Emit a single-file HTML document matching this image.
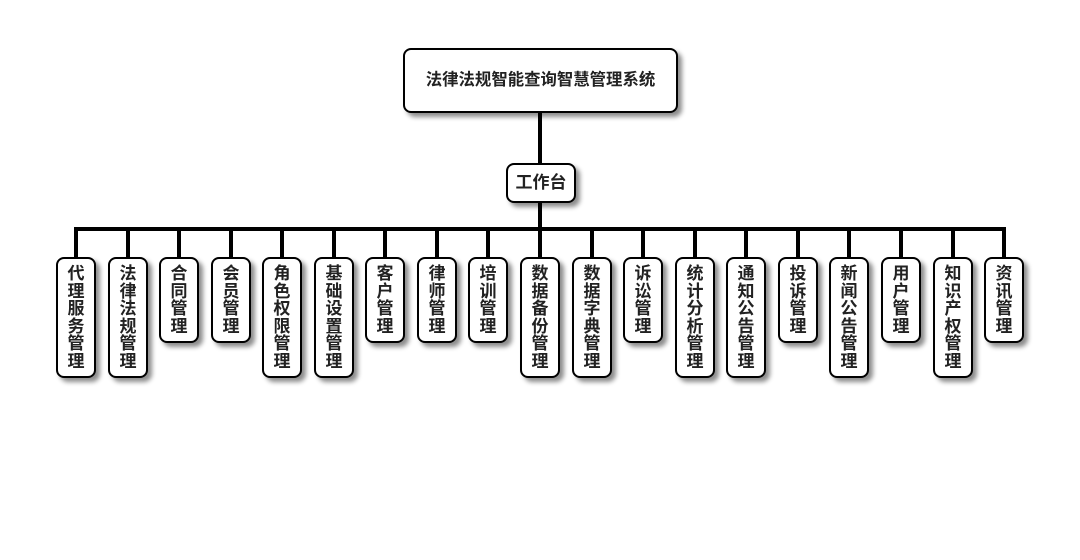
<!DOCTYPE html>
<html><head><meta charset="utf-8"><style>
html,body{margin:0;padding:0;background:#fff;}
body{width:1080px;height:560px;position:relative;overflow:hidden;font-family:"Liberation Sans","Noto Sans CJK SC",sans-serif;font-weight:bold;color:#222;}
.b{position:absolute;background:#fff;border:2px solid #000;border-radius:8px;box-shadow:4px 4px 5px rgba(0,0,0,0.45);box-sizing:border-box;}
.l{position:absolute;background:#000;}
.c{width:40px;top:257px;text-align:center;font-size:17px;line-height:17.5px;padding-top:6px;}
</style></head><body>
<div class="l" style="left:538px;top:112px;width:4px;height:52px"></div>
<div class="l" style="left:538px;top:200px;width:4px;height:29px"></div>
<div class="l" style="left:74px;top:227px;width:932px;height:4px"></div>
<div class="b" style="left:403px;top:48px;width:275px;height:65px;font-size:16.4px;line-height:61px;text-align:center;">法律法规智能查询智慧管理系统</div>
<div class="b" style="left:506px;top:163px;width:70px;height:40px;font-size:17px;line-height:36px;text-align:center;">工作台</div>
<div id="k"></div>
<script>
var n=["代理服务管理","法律法规管理","合同管理","会员管理","角色权限管理","基础设置管理","客户管理","律师管理","培训管理","数据备份管理","数据字典管理","诉讼管理","统计分析管理","通知公告管理","投诉管理","新闻公告管理","用户管理","知识产权管理","资讯管理"];
var h="";
for(var i=0;i<n.length;i++){var cx=Math.round(76+i*51.56);
h+='<div class="l" style="left:'+(cx-2)+'px;top:229px;width:4px;height:29px"></div>';
var ht=n[i].length==6?121:86;
h+='<div class="b c" style="left:'+(cx-20)+'px;height:'+ht+'px">'+n[i].split("").join("<br>")+'</div>';}
document.getElementById("k").innerHTML=h;
</script>
</body></html>
